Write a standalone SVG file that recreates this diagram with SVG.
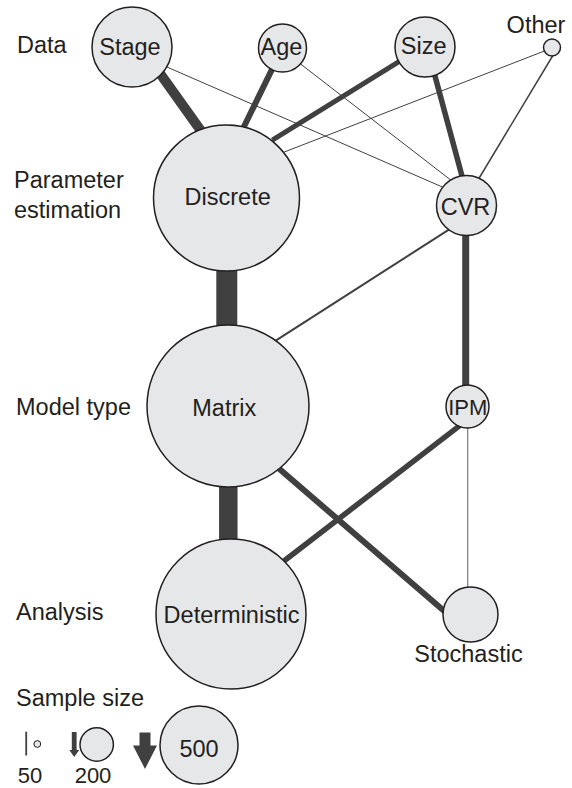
<svg xmlns="http://www.w3.org/2000/svg" width="572" height="788" viewBox="0 0 572 788">
<style>
  text { font-family: "Liberation Sans", Arial, sans-serif; font-size: 23.5px; fill: #231f20; }
  .lbl { text-anchor: start; }
  .nt { text-anchor: middle; }
  .node circle { fill: #e6e7e8; stroke: #231f20; stroke-width: 1.5; }
  .edge { stroke: #404041; fill: none; stroke-linecap: butt; }
  .legend-arrow { fill: #404041; }
</style>
<rect width="572" height="788" fill="#ffffff"/>

<g id="row-labels">
  <text class="lbl" x="17" y="53">Data</text>
  <text class="lbl" x="14" y="188">Parameter</text>
  <text class="lbl" x="14" y="218">estimation</text>
  <text class="lbl" x="16" y="415">Model type</text>
  <text class="lbl" x="16" y="620">Analysis</text>
</g>

<g id="connectors">
  <line class="edge" x1="159.4" y1="72.6" x2="201.9" y2="132.1" stroke-width="10"/>
  <line class="edge" x1="163" y1="65.3" x2="446" y2="188.6" stroke-width="1"/>
  <line class="edge" x1="273.9" y1="65.5" x2="242.3" y2="130" stroke-width="6"/>
  <line class="edge" x1="298" y1="62" x2="452" y2="181" stroke-width="1"/>
  <line class="edge" x1="401" y1="60.4" x2="272.3" y2="140.1" stroke-width="5"/>
  <line class="edge" x1="433.7" y1="71.2" x2="463" y2="179.8" stroke-width="5.5"/>
  <line class="edge" x1="547" y1="50" x2="281" y2="153.3" stroke-width="1"/>
  <line class="edge" x1="555" y1="52" x2="478" y2="180" stroke-width="1.5"/>
  <line class="edge" x1="226.8" y1="265" x2="226.8" y2="330" stroke-width="21"/>
  <line class="edge" x1="452" y1="227.6" x2="273" y2="342.4" stroke-width="2"/>
  <line class="edge" x1="465.7" y1="230" x2="465.7" y2="390" stroke-width="7"/>
  <line class="edge" x1="228.3" y1="482" x2="228.3" y2="545" stroke-width="18.5"/>
  <line class="edge" x1="277.7" y1="467.5" x2="448.8" y2="615" stroke-width="6"/>
  <line class="edge" x1="462.3" y1="423.6" x2="282.7" y2="562" stroke-width="5.5"/>
  <line class="edge" x1="467.7" y1="425" x2="467.7" y2="590" stroke-width="1.2" style="stroke:#7a7a7a"/>
</g>

<g id="node-stage" class="node"><circle cx="132" cy="47" r="40"/><text class="nt" x="130" y="55">Stage</text></g>
<g id="node-age" class="node"><circle cx="282.5" cy="48" r="24"/><text class="nt" x="281.5" y="55">Age</text></g>
<g id="node-size" class="node"><circle cx="425" cy="47" r="30"/><text class="nt" x="423.7" y="54">Size</text></g>
<g id="node-other" class="node"><circle cx="552" cy="47.5" r="8.5"/><text class="nt" x="536" y="33">Other</text></g>
<g id="node-cvr" class="node"><circle cx="466.5" cy="205.5" r="30"/><text class="nt" x="465.5" y="215">CVR</text></g>
<g id="node-discrete" class="node"><circle cx="226.5" cy="198" r="73"/><text class="nt" x="227.7" y="205">Discrete</text></g>
<g id="node-ipm" class="node"><circle cx="467.5" cy="406.5" r="21.5"/><text class="nt" x="467.8" y="415" style="font-size:22px">IPM</text></g>
<g id="node-matrix" class="node"><circle cx="228" cy="406" r="81"/><text class="nt" x="224.3" y="415.5">Matrix</text></g>
<g id="node-deterministic" class="node"><circle cx="231" cy="614" r="75"/><text class="nt" x="231.5" y="622.5">Deterministic</text></g>
<g id="node-stochastic" class="node"><circle cx="470.5" cy="614.5" r="27.5"/><text class="nt" x="468.5" y="662">Stochastic</text></g>

<g id="legend">
  <text class="lbl" x="16" y="706">Sample size</text>
  <line x1="26.2" y1="731.7" x2="26.2" y2="755.5" stroke="#404041" stroke-width="1.8"/>
  <g class="node"><circle cx="37.3" cy="744" r="3.4" style="stroke-width:1"/></g>
  <text class="nt" x="30" y="783" style="font-size:22px">50</text>
  <path class="legend-arrow" d="M71.8,732 H76.6 V750 H79.3 L74.2,757 L69.3,750 H71.8 Z"/>
  <g class="node"><circle cx="96.7" cy="744.5" r="16.7"/></g>
  <text class="nt" x="93" y="783" style="font-size:22px">200</text>
  <path class="legend-arrow" d="M139.5,732.5 H150.5 V745.5 H157 L145,769 L133,745.5 H139.5 Z"/>
  <g class="node"><circle cx="199" cy="745" r="39"/></g>
  <text class="nt" x="199" y="756.5">500</text>
</g>
</svg>
